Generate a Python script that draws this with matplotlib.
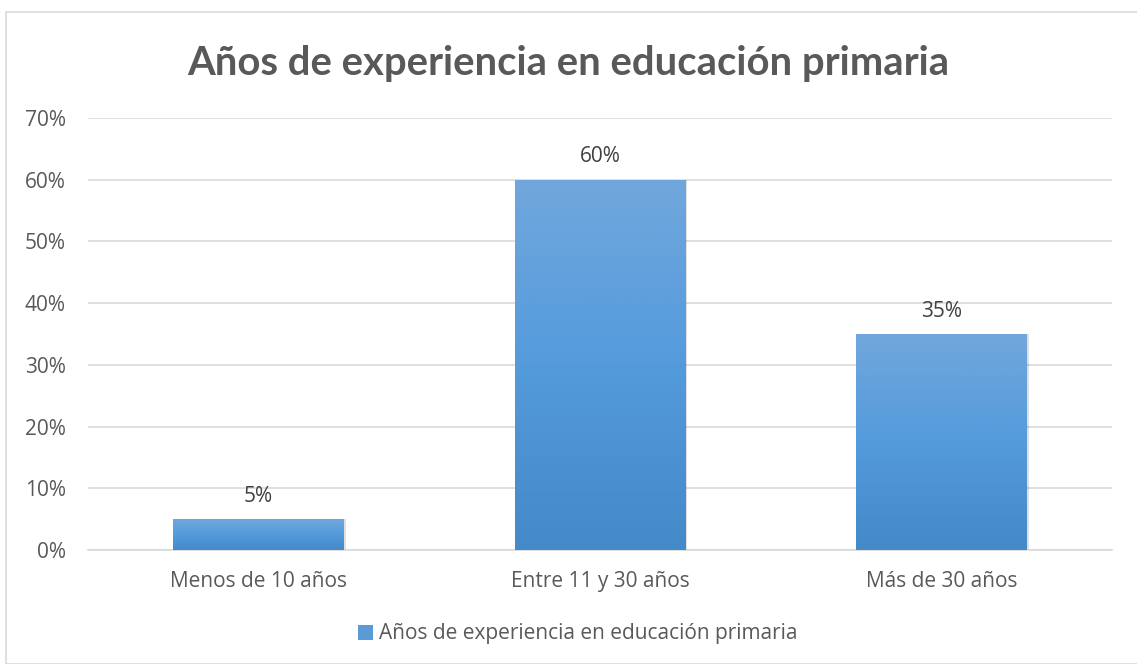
import numpy as np
import matplotlib.pyplot as plt
from matplotlib.patches import Rectangle
from matplotlib.ticker import PercentFormatter
from matplotlib.colors import LinearSegmentedColormap

categories = ["Menos de 10 años", "Entre 11 y 30 años", "Más de 30 años"]
values = [0.05, 0.60, 0.35]
series_name = "Años de experiencia en educación primaria"
title = "Años de experiencia en educación primaria"

plt.rcParams["font.family"] = ["Open Sans", "DejaVu Sans"]
text_color = "#595959"

fig = plt.figure(figsize=(11.37, 6.64), dpi=100)
ax = fig.add_axes([0.0774, 0.1717, 0.9006, 0.6506])

# outer chart border
fig.patches.append(Rectangle((6 / 1137, 0), 1.2, 1 - 12 / 664, transform=fig.transFigure,
                             fill=False, edgecolor="#d9d9d9", linewidth=1.2))

x = np.arange(len(categories))
bars = ax.bar(x, values, width=0.5, color="#5b9bd5", zorder=2, label=series_name)

# vertical gradient on each bar
grad = np.linspace(0, 1, 256).reshape(-1, 1)
cmap = LinearSegmentedColormap.from_list("bar", ["#4489c8", "#549bdc", "#71a7dc"])
for b in bars:
    bx, by = b.get_x(), b.get_y()
    w, h = b.get_width(), b.get_height()
    im = ax.imshow(grad, cmap=cmap, aspect="auto", origin="lower",
                   extent=[bx, bx + w, by, by + h], zorder=3)
    im.set_clip_path(b)
    # soft shadow
    ax.add_patch(Rectangle((bx + 0.006, by), w, h, facecolor="#000000", alpha=0.12,
                           edgecolor="none", zorder=1.9))

for xi, v in zip(x, values):
    ax.text(xi, v + 0.02, f"{v * 100:.0f}%", ha="center", va="bottom",
            fontsize=15, color="#404040")

ax.set_xlim(-0.5, 2.5)
ax.set_ylim(0, 0.7)
ax.set_yticks(np.arange(0, 0.71, 0.1))
ax.yaxis.set_major_formatter(PercentFormatter(1.0, decimals=0))
ax.set_xticks(x)
ax.set_xticklabels(categories)
ax.tick_params(axis="both", length=0, labelsize=15, labelcolor=text_color)
ax.tick_params(axis="x", pad=15)
ax.tick_params(axis="y", pad=16)
ax.grid(axis="y", color="#d9d9d9", linewidth=1.2, zorder=0)
for s in ["top", "right", "left"]:
    ax.spines[s].set_visible(False)
ax.spines["bottom"].set_color("#d9d9d9")
ax.spines["bottom"].set_linewidth(1.2)

fig.text(0.5, 1 - 64 / 664, title, ha="center", va="center", fontsize=28.8,
         fontweight="bold", color=text_color, family=["Lato", "DejaVu Sans"])

leg = fig.legend(handles=[Rectangle((0, 0), 1, 1, facecolor="#5b9bd5")], labels=[series_name],
                 loc="center", bbox_to_anchor=(0.508, 1 - 634 / 664), frameon=False,
                 fontsize=15, handlelength=0.7, handleheight=0.7, handletextpad=0.3)
for t in leg.get_texts():
    t.set_color(text_color)

fig.savefig("out.png", dpi=100)
